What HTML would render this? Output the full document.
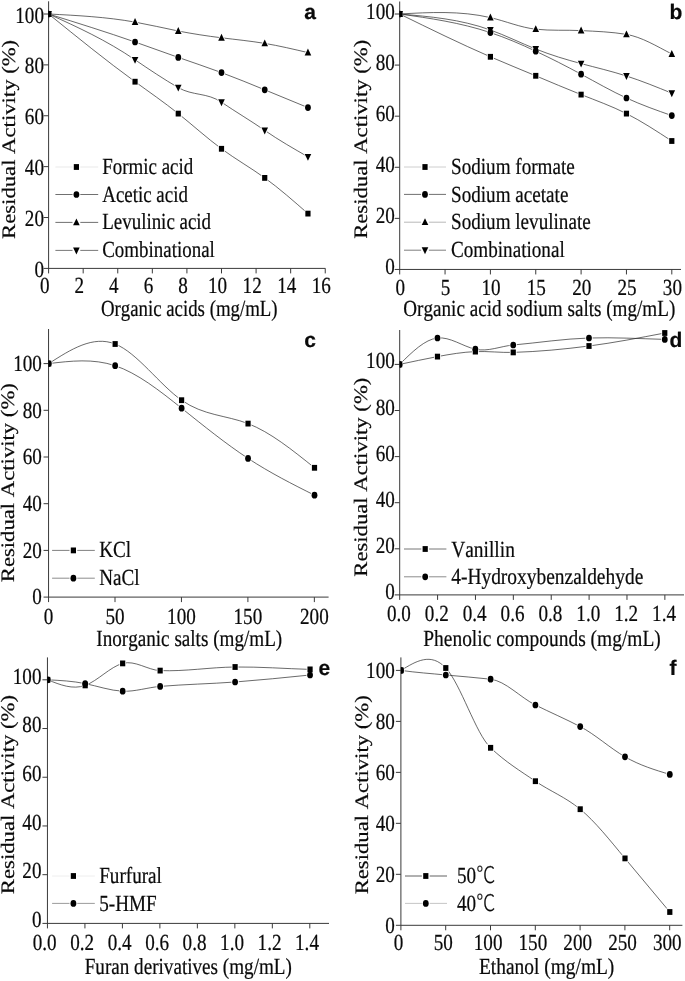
<!DOCTYPE html>
<html><head><meta charset="utf-8"><title>Residual activity</title>
<style>
html,body{margin:0;padding:0;background:#fff;}
svg{display:block;}
text{font-family:"Liberation Serif","Times New Roman",serif;fill:#0a0a0a;stroke:#0a0a0a;stroke-width:0.22px;font-kerning:none;text-rendering:geometricPrecision;}
</style></head><body>
<svg width="685" height="981" viewBox="0 0 685 981">
<rect width="685" height="981" fill="#fff"/>
<g fill="#000">
<g stroke="#3a3a3a" stroke-width="1" fill="none">
<path d="M48.6,1.3V273.4M43.6,268.4H325.4"/>
<path d="M43.6,217.52H48.6M43.6,166.64H48.6M43.6,115.76H48.6M43.6,64.88H48.6M43.6,14.00H48.6M83.18,268.4V273.4M117.76,268.4V273.4M152.34,268.4V273.4M186.92,268.4V273.4M221.50,268.4V273.4M256.08,268.4V273.4M290.66,268.4V273.4M325.24,268.4V273.4"/>
</g>
<text transform="translate(44.00,277.00) scale(0.83,1)" text-anchor="end" font-size="23.05">0</text>
<text transform="translate(44.00,226.12) scale(0.83,1)" text-anchor="end" font-size="23.05">20</text>
<text transform="translate(44.00,175.24) scale(0.83,1)" text-anchor="end" font-size="23.05">40</text>
<text transform="translate(44.00,124.36) scale(0.83,1)" text-anchor="end" font-size="23.05">60</text>
<text transform="translate(44.00,73.48) scale(0.83,1)" text-anchor="end" font-size="23.05">80</text>
<text transform="translate(44.00,22.60) scale(0.83,1)" text-anchor="end" font-size="23.05">100</text>
<text transform="translate(44.70,292.70) scale(0.83,1)" text-anchor="middle" font-size="23.05">0</text>
<text transform="translate(79.28,292.70) scale(0.83,1)" text-anchor="middle" font-size="23.05">2</text>
<text transform="translate(113.86,292.70) scale(0.83,1)" text-anchor="middle" font-size="23.05">4</text>
<text transform="translate(148.44,292.70) scale(0.83,1)" text-anchor="middle" font-size="23.05">6</text>
<text transform="translate(183.02,292.70) scale(0.83,1)" text-anchor="middle" font-size="23.05">8</text>
<text transform="translate(217.60,292.70) scale(0.83,1)" text-anchor="middle" font-size="23.05">10</text>
<text transform="translate(252.18,292.70) scale(0.83,1)" text-anchor="middle" font-size="23.05">12</text>
<text transform="translate(286.76,292.70) scale(0.83,1)" text-anchor="middle" font-size="23.05">14</text>
<text transform="translate(321.34,292.70) scale(0.83,1)" text-anchor="middle" font-size="23.05">16</text>
<text transform="translate(100.90,316.00) scale(0.817,1)" text-anchor="start" font-size="23.05">Organic acids (mg/mL)</text>
<text transform="translate(14.70,139.40) scale(0.84,1) rotate(-90)" text-anchor="middle" font-size="22.7">Residual Activity (%)</text>
<text transform="translate(310.00,19.40) scale(1,1)" text-anchor="middle" font-size="21" style="font-family:'Liberation Sans',Arial,sans-serif;font-weight:bold;">a</text>
<clipPath id="cpa"><rect x="48.6" y="-4.7" width="651.4" height="273.09999999999997"/></clipPath>
<g clip-path="url(#cpa)">
<mask id="mka0" maskUnits="userSpaceOnUse" x="0" y="0" width="685" height="981"><rect width="685" height="981" fill="#fff"/><g fill="#000" stroke="#000" stroke-width="1.6">
<rect x="46.00" y="11.10" width="5.2" height="5.8"/>
<rect x="132.45" y="78.80" width="5.2" height="5.8"/>
<rect x="175.67" y="110.70" width="5.2" height="5.8"/>
<rect x="218.90" y="145.90" width="5.2" height="5.8"/>
<rect x="262.12" y="175.00" width="5.2" height="5.8"/>
<rect x="305.35" y="210.70" width="5.2" height="5.8"/>
</g></mask>
<path d="M48.60,14.00C77.42,37.35 106.23,60.71 135.05,81.70C149.46,92.20 163.87,102.10 178.27,113.60C192.68,125.10 207.09,138.20 221.50,148.80C235.91,159.40 250.32,167.52 264.73,177.90C279.13,188.28 293.54,200.94 307.95,213.60" fill="none" stroke="#2a2a2a" stroke-width="0.7" mask="url(#mka0)"/>
<rect x="46.00" y="11.10" width="5.2" height="5.8"/>
<rect x="132.45" y="78.80" width="5.2" height="5.8"/>
<rect x="175.67" y="110.70" width="5.2" height="5.8"/>
<rect x="218.90" y="145.90" width="5.2" height="5.8"/>
<rect x="262.12" y="175.00" width="5.2" height="5.8"/>
<rect x="305.35" y="210.70" width="5.2" height="5.8"/>
<mask id="mka1" maskUnits="userSpaceOnUse" x="0" y="0" width="685" height="981"><rect width="685" height="981" fill="#fff"/><g fill="#000" stroke="#000" stroke-width="1.6">
<ellipse cx="48.60" cy="14.00" rx="2.9" ry="3.35"/>
<ellipse cx="135.05" cy="42.00" rx="2.9" ry="3.35"/>
<ellipse cx="178.27" cy="57.40" rx="2.9" ry="3.35"/>
<ellipse cx="221.50" cy="72.60" rx="2.9" ry="3.35"/>
<ellipse cx="264.73" cy="89.80" rx="2.9" ry="3.35"/>
<ellipse cx="307.95" cy="107.60" rx="2.9" ry="3.35"/>
</g></mask>
<path d="M48.60,14.00C77.42,22.96 106.23,31.93 135.05,42.00C149.46,47.04 163.87,52.35 178.27,57.40C192.68,62.45 207.09,67.24 221.50,72.60C235.91,77.96 250.32,83.87 264.73,89.80C279.13,95.73 293.54,101.66 307.95,107.60" fill="none" stroke="#2a2a2a" stroke-width="0.7" mask="url(#mka1)"/>
<ellipse cx="48.60" cy="14.00" rx="2.9" ry="3.35"/>
<ellipse cx="135.05" cy="42.00" rx="2.9" ry="3.35"/>
<ellipse cx="178.27" cy="57.40" rx="2.9" ry="3.35"/>
<ellipse cx="221.50" cy="72.60" rx="2.9" ry="3.35"/>
<ellipse cx="264.73" cy="89.80" rx="2.9" ry="3.35"/>
<ellipse cx="307.95" cy="107.60" rx="2.9" ry="3.35"/>
<mask id="mka2" maskUnits="userSpaceOnUse" x="0" y="0" width="685" height="981"><rect width="685" height="981" fill="#fff"/><g fill="#000" stroke="#000" stroke-width="1.6">
<path d="M45.30,16.90L51.90,16.90L48.60,10.00Z"/>
<path d="M131.75,25.00L138.35,25.00L135.05,18.10Z"/>
<path d="M174.97,33.90L181.57,33.90L178.27,27.00Z"/>
<path d="M218.20,40.70L224.80,40.70L221.50,33.80Z"/>
<path d="M261.43,46.30L268.03,46.30L264.73,39.40Z"/>
<path d="M304.65,55.50L311.25,55.50L307.95,48.60Z"/>
</g></mask>
<path d="M48.60,14.00C77.42,15.48 106.23,16.95 135.05,22.10C149.46,24.67 163.87,28.17 178.27,31.00C192.68,33.83 207.09,36.01 221.50,37.80C235.91,39.59 250.32,41.00 264.73,43.40C279.13,45.80 293.54,49.20 307.95,52.60" fill="none" stroke="#2a2a2a" stroke-width="0.7" mask="url(#mka2)"/>
<path d="M45.30,16.90L51.90,16.90L48.60,10.00Z"/>
<path d="M131.75,25.00L138.35,25.00L135.05,18.10Z"/>
<path d="M174.97,33.90L181.57,33.90L178.27,27.00Z"/>
<path d="M218.20,40.70L224.80,40.70L221.50,33.80Z"/>
<path d="M261.43,46.30L268.03,46.30L264.73,39.40Z"/>
<path d="M304.65,55.50L311.25,55.50L307.95,48.60Z"/>
<mask id="mka3" maskUnits="userSpaceOnUse" x="0" y="0" width="685" height="981"><rect width="685" height="981" fill="#fff"/><g fill="#000" stroke="#000" stroke-width="1.6">
<path d="M45.30,11.10L51.90,11.10L48.60,18.00Z"/>
<path d="M131.75,56.90L138.35,56.90L135.05,63.80Z"/>
<path d="M174.97,84.70L181.57,84.70L178.27,91.60Z"/>
<path d="M218.20,99.30L224.80,99.30L221.50,106.20Z"/>
<path d="M261.43,127.50L268.03,127.50L264.73,134.40Z"/>
<path d="M304.65,153.90L311.25,153.90L307.95,160.80Z"/>
</g></mask>
<path d="M48.60,14.00C77.42,27.07 106.23,40.14 135.05,59.80C149.46,69.63 163.87,79.24 178.27,87.60C192.68,95.96 207.09,92.40 221.50,102.20C235.91,112.00 250.32,120.45 264.73,130.40C279.13,140.35 293.54,148.57 307.95,156.80" fill="none" stroke="#2a2a2a" stroke-width="0.7" mask="url(#mka3)"/>
<path d="M45.30,11.10L51.90,11.10L48.60,18.00Z"/>
<path d="M131.75,56.90L138.35,56.90L135.05,63.80Z"/>
<path d="M174.97,84.70L181.57,84.70L178.27,91.60Z"/>
<path d="M218.20,99.30L224.80,99.30L221.50,106.20Z"/>
<path d="M261.43,127.50L268.03,127.50L264.73,134.40Z"/>
<path d="M304.65,153.90L311.25,153.90L307.95,160.80Z"/>
</g>
<path d="M55.4,167H72.50M80.30,167H98.2" stroke="#e6e6e6" stroke-width="0.9" fill="none"/>
<rect x="73.80" y="164.10" width="5.2" height="5.8"/>
<text transform="translate(102.20,174.00) scale(0.822,1)" text-anchor="start" font-size="23.05">Formic acid</text>
<path d="M55.4,194.5H72.50M80.30,194.5H98.2" stroke="#606060" stroke-width="0.9" fill="none"/>
<ellipse cx="76.40" cy="194.50" rx="2.9" ry="3.35"/>
<text transform="translate(102.20,201.70) scale(0.822,1)" text-anchor="start" font-size="23.05">Acetic acid</text>
<path d="M55.4,222.4H72.50M80.30,222.4H98.2" stroke="#606060" stroke-width="0.9" fill="none"/>
<path d="M73.10,225.30L79.70,225.30L76.40,218.40Z"/>
<text transform="translate(102.20,229.40) scale(0.822,1)" text-anchor="start" font-size="23.05">Levulinic acid</text>
<path d="M55.4,250.4H72.50M80.30,250.4H98.2" stroke="#686868" stroke-width="0.9" fill="none"/>
<path d="M73.10,247.50L79.70,247.50L76.40,254.40Z"/>
<text transform="translate(102.20,257.00) scale(0.822,1)" text-anchor="start" font-size="23.05">Combinational</text>
<g stroke="#3a3a3a" stroke-width="1" fill="none">
<path d="M399.7,1.5V274.45M394.7,269.45H681"/>
<path d="M394.7,218.36H399.7M394.7,167.27H399.7M394.7,116.18H399.7M394.7,65.09H399.7M394.7,14.00H399.7M445.05,269.45V274.45M490.40,269.45V274.45M535.75,269.45V274.45M581.10,269.45V274.45M626.45,269.45V274.45M671.80,269.45V274.45"/>
</g>
<text transform="translate(394.80,274.45) scale(0.83,1)" text-anchor="end" font-size="23.05">0</text>
<text transform="translate(394.80,223.36) scale(0.83,1)" text-anchor="end" font-size="23.05">20</text>
<text transform="translate(394.80,172.27) scale(0.83,1)" text-anchor="end" font-size="23.05">40</text>
<text transform="translate(394.80,121.18) scale(0.83,1)" text-anchor="end" font-size="23.05">60</text>
<text transform="translate(394.80,70.09) scale(0.83,1)" text-anchor="end" font-size="23.05">80</text>
<text transform="translate(394.80,19.00) scale(0.83,1)" text-anchor="end" font-size="23.05">100</text>
<text transform="translate(400.30,295.20) scale(0.83,1)" text-anchor="middle" font-size="23.05">0</text>
<text transform="translate(445.65,295.20) scale(0.83,1)" text-anchor="middle" font-size="23.05">5</text>
<text transform="translate(491.00,295.20) scale(0.83,1)" text-anchor="middle" font-size="23.05">10</text>
<text transform="translate(536.35,295.20) scale(0.83,1)" text-anchor="middle" font-size="23.05">15</text>
<text transform="translate(581.70,295.20) scale(0.83,1)" text-anchor="middle" font-size="23.05">20</text>
<text transform="translate(627.05,295.20) scale(0.83,1)" text-anchor="middle" font-size="23.05">25</text>
<text transform="translate(672.40,295.20) scale(0.83,1)" text-anchor="middle" font-size="23.05">30</text>
<text transform="translate(403.30,316.00) scale(0.83,1)" text-anchor="start" font-size="23.05">Organic acid sodium salts (mg/mL)</text>
<text transform="translate(367.20,139.30) scale(0.84,1) rotate(-90)" text-anchor="middle" font-size="22.7">Residual Activity (%)</text>
<text transform="translate(676.00,19.40) scale(1,1)" text-anchor="middle" font-size="21" style="font-family:'Liberation Sans',Arial,sans-serif;font-weight:bold;">b</text>
<clipPath id="cpb"><rect x="399.7" y="-4.5" width="300.3" height="273.95"/></clipPath>
<g clip-path="url(#cpb)">
<mask id="mkb0" maskUnits="userSpaceOnUse" x="0" y="0" width="685" height="981"><rect width="685" height="981" fill="#fff"/><g fill="#000" stroke="#000" stroke-width="1.6">
<rect x="397.10" y="11.10" width="5.2" height="5.8"/>
<rect x="487.80" y="53.90" width="5.2" height="5.8"/>
<rect x="533.15" y="72.90" width="5.2" height="5.8"/>
<rect x="578.50" y="91.70" width="5.2" height="5.8"/>
<rect x="623.85" y="110.70" width="5.2" height="5.8"/>
<rect x="669.20" y="138.10" width="5.2" height="5.8"/>
</g></mask>
<path d="M399.70,14.00C429.93,28.84 460.17,43.69 490.40,56.80C505.52,63.36 520.63,69.48 535.75,75.80C550.87,82.12 565.98,88.64 581.10,94.60C596.22,100.56 611.33,105.96 626.45,113.60C641.57,121.24 656.68,131.12 671.80,141.00" fill="none" stroke="#2a2a2a" stroke-width="0.7" mask="url(#mkb0)"/>
<rect x="397.10" y="11.10" width="5.2" height="5.8"/>
<rect x="487.80" y="53.90" width="5.2" height="5.8"/>
<rect x="533.15" y="72.90" width="5.2" height="5.8"/>
<rect x="578.50" y="91.70" width="5.2" height="5.8"/>
<rect x="623.85" y="110.70" width="5.2" height="5.8"/>
<rect x="669.20" y="138.10" width="5.2" height="5.8"/>
<mask id="mkb1" maskUnits="userSpaceOnUse" x="0" y="0" width="685" height="981"><rect width="685" height="981" fill="#fff"/><g fill="#000" stroke="#000" stroke-width="1.6">
<ellipse cx="399.70" cy="14.00" rx="2.9" ry="3.35"/>
<ellipse cx="490.40" cy="32.60" rx="2.9" ry="3.35"/>
<ellipse cx="535.75" cy="51.20" rx="2.9" ry="3.35"/>
<ellipse cx="581.10" cy="74.20" rx="2.9" ry="3.35"/>
<ellipse cx="626.45" cy="98.00" rx="2.9" ry="3.35"/>
<ellipse cx="671.80" cy="115.60" rx="2.9" ry="3.35"/>
</g></mask>
<path d="M399.70,14.00C429.93,18.27 460.17,22.54 490.40,32.60C505.52,37.63 520.63,44.10 535.75,51.20C550.87,58.30 565.98,66.02 581.10,74.20C596.22,82.38 611.33,91.02 626.45,98.00C641.57,104.98 656.68,110.29 671.80,115.60" fill="none" stroke="#2a2a2a" stroke-width="0.7" mask="url(#mkb1)"/>
<ellipse cx="399.70" cy="14.00" rx="2.9" ry="3.35"/>
<ellipse cx="490.40" cy="32.60" rx="2.9" ry="3.35"/>
<ellipse cx="535.75" cy="51.20" rx="2.9" ry="3.35"/>
<ellipse cx="581.10" cy="74.20" rx="2.9" ry="3.35"/>
<ellipse cx="626.45" cy="98.00" rx="2.9" ry="3.35"/>
<ellipse cx="671.80" cy="115.60" rx="2.9" ry="3.35"/>
<mask id="mkb2" maskUnits="userSpaceOnUse" x="0" y="0" width="685" height="981"><rect width="685" height="981" fill="#fff"/><g fill="#000" stroke="#000" stroke-width="1.6">
<path d="M396.40,16.90L403.00,16.90L399.70,10.00Z"/>
<path d="M487.10,20.50L493.70,20.50L490.40,13.60Z"/>
<path d="M532.45,32.10L539.05,32.10L535.75,25.20Z"/>
<path d="M577.80,33.50L584.40,33.50L581.10,26.60Z"/>
<path d="M623.15,37.30L629.75,37.30L626.45,30.40Z"/>
<path d="M668.50,56.90L675.10,56.90L671.80,50.00Z"/>
</g></mask>
<path d="M399.70,14.00C429.93,12.31 460.17,10.62 490.40,17.60C505.52,21.09 520.63,27.54 535.75,29.20C550.87,30.86 565.98,29.84 581.10,30.60C596.22,31.36 611.33,31.83 626.45,34.40C641.57,36.97 656.68,46.19 671.80,54.00" fill="none" stroke="#2a2a2a" stroke-width="0.7" mask="url(#mkb2)"/>
<path d="M396.40,16.90L403.00,16.90L399.70,10.00Z"/>
<path d="M487.10,20.50L493.70,20.50L490.40,13.60Z"/>
<path d="M532.45,32.10L539.05,32.10L535.75,25.20Z"/>
<path d="M577.80,33.50L584.40,33.50L581.10,26.60Z"/>
<path d="M623.15,37.30L629.75,37.30L626.45,30.40Z"/>
<path d="M668.50,56.90L675.10,56.90L671.80,50.00Z"/>
<mask id="mkb3" maskUnits="userSpaceOnUse" x="0" y="0" width="685" height="981"><rect width="685" height="981" fill="#fff"/><g fill="#000" stroke="#000" stroke-width="1.6">
<path d="M396.40,11.10L403.00,11.10L399.70,18.00Z"/>
<path d="M487.10,27.10L493.70,27.10L490.40,34.00Z"/>
<path d="M532.45,46.10L539.05,46.10L535.75,53.00Z"/>
<path d="M577.80,60.70L584.40,60.70L581.10,67.60Z"/>
<path d="M623.15,73.10L629.75,73.10L626.45,80.00Z"/>
<path d="M668.50,90.30L675.10,90.30L671.80,97.20Z"/>
</g></mask>
<path d="M399.70,14.00C429.93,16.56 460.17,19.11 490.40,30.00C505.52,35.44 520.63,42.97 535.75,49.00C550.87,55.03 565.98,59.57 581.10,63.60C596.22,67.63 611.33,71.15 626.45,76.00C641.57,80.85 656.68,87.02 671.80,93.20" fill="none" stroke="#2a2a2a" stroke-width="0.7" mask="url(#mkb3)"/>
<path d="M396.40,11.10L403.00,11.10L399.70,18.00Z"/>
<path d="M487.10,27.10L493.70,27.10L490.40,34.00Z"/>
<path d="M532.45,46.10L539.05,46.10L535.75,53.00Z"/>
<path d="M577.80,60.70L584.40,60.70L581.10,67.60Z"/>
<path d="M623.15,73.10L629.75,73.10L626.45,80.00Z"/>
<path d="M668.50,90.30L675.10,90.30L671.80,97.20Z"/>
</g>
<path d="M404,167H421.10M428.90,167H446" stroke="#c8c8c8" stroke-width="0.9" fill="none"/>
<rect x="422.40" y="164.10" width="5.2" height="5.8"/>
<text transform="translate(451.00,174.00) scale(0.83,1)" text-anchor="start" font-size="23.05">Sodium formate</text>
<path d="M404,194.4H421.10M428.90,194.4H446" stroke="#606060" stroke-width="0.9" fill="none"/>
<ellipse cx="425.00" cy="194.40" rx="2.9" ry="3.35"/>
<text transform="translate(451.00,201.80) scale(0.83,1)" text-anchor="start" font-size="23.05">Sodium acetate</text>
<path d="M404,222.2H421.10M428.90,222.2H446" stroke="#b0b0b0" stroke-width="0.9" fill="none"/>
<path d="M421.70,225.10L428.30,225.10L425.00,218.20Z"/>
<text transform="translate(451.00,229.40) scale(0.83,1)" text-anchor="start" font-size="23.05">Sodium levulinate</text>
<path d="M404,250.2H421.10M428.90,250.2H446" stroke="#707070" stroke-width="0.9" fill="none"/>
<path d="M421.70,247.30L428.30,247.30L425.00,254.20Z"/>
<text transform="translate(451.00,257.00) scale(0.83,1)" text-anchor="start" font-size="23.05">Combinational</text>
<g stroke="#3a3a3a" stroke-width="1" fill="none">
<path d="M48.55,329V602.1M43.55,597.1H328.6"/>
<path d="M43.55,550.40H48.55M43.55,503.70H48.55M43.55,457.00H48.55M43.55,410.30H48.55M43.55,363.60H48.55M115.00,597.1V602.1M181.45,597.1V602.1M247.90,597.1V602.1M314.35,597.1V602.1"/>
</g>
<text transform="translate(41.90,604.40) scale(0.83,1)" text-anchor="end" font-size="23.05">0</text>
<text transform="translate(41.90,557.70) scale(0.83,1)" text-anchor="end" font-size="23.05">20</text>
<text transform="translate(41.90,511.00) scale(0.83,1)" text-anchor="end" font-size="23.05">40</text>
<text transform="translate(41.90,464.30) scale(0.83,1)" text-anchor="end" font-size="23.05">60</text>
<text transform="translate(41.90,417.60) scale(0.83,1)" text-anchor="end" font-size="23.05">80</text>
<text transform="translate(41.90,370.90) scale(0.83,1)" text-anchor="end" font-size="23.05">100</text>
<text transform="translate(48.55,623.50) scale(0.83,1)" text-anchor="middle" font-size="23.05">0</text>
<text transform="translate(115.00,623.50) scale(0.83,1)" text-anchor="middle" font-size="23.05">50</text>
<text transform="translate(181.45,623.50) scale(0.83,1)" text-anchor="middle" font-size="23.05">100</text>
<text transform="translate(247.90,623.50) scale(0.83,1)" text-anchor="middle" font-size="23.05">150</text>
<text transform="translate(314.35,623.50) scale(0.83,1)" text-anchor="middle" font-size="23.05">200</text>
<text transform="translate(96.30,646.00) scale(0.83,1)" text-anchor="start" font-size="23.05">Inorganic salts (mg/mL)</text>
<text transform="translate(14.40,482.70) scale(0.84,1) rotate(-90)" text-anchor="middle" font-size="22.7">Residual Activity (%)</text>
<text transform="translate(310.00,347.40) scale(1,1)" text-anchor="middle" font-size="21" style="font-family:'Liberation Sans',Arial,sans-serif;font-weight:bold;">c</text>
<clipPath id="cpc"><rect x="48.55" y="323" width="651.45" height="274.1"/></clipPath>
<g clip-path="url(#cpc)">
<mask id="mkc0" maskUnits="userSpaceOnUse" x="0" y="0" width="685" height="981"><rect width="685" height="981" fill="#fff"/><g fill="#000" stroke="#000" stroke-width="1.6">
<rect x="46.10" y="360.70" width="5.2" height="5.8"/>
<rect x="112.55" y="341.10" width="5.2" height="5.8"/>
<rect x="179.00" y="397.30" width="5.2" height="5.8"/>
<rect x="245.45" y="420.70" width="5.2" height="5.8"/>
<rect x="311.90" y="464.90" width="5.2" height="5.8"/>
</g></mask>
<path d="M48.70,363.60C70.85,349.39 93.00,335.19 115.15,344.00C137.30,352.81 159.45,384.64 181.60,400.20C203.75,415.76 225.90,415.05 248.05,423.60C270.20,432.15 292.35,449.98 314.50,467.80" fill="none" stroke="#2a2a2a" stroke-width="0.7" mask="url(#mkc0)"/>
<rect x="46.10" y="360.70" width="5.2" height="5.8"/>
<rect x="112.55" y="341.10" width="5.2" height="5.8"/>
<rect x="179.00" y="397.30" width="5.2" height="5.8"/>
<rect x="245.45" y="420.70" width="5.2" height="5.8"/>
<rect x="311.90" y="464.90" width="5.2" height="5.8"/>
<mask id="mkc1" maskUnits="userSpaceOnUse" x="0" y="0" width="685" height="981"><rect width="685" height="981" fill="#fff"/><g fill="#000" stroke="#000" stroke-width="1.6">
<ellipse cx="48.70" cy="363.60" rx="2.9" ry="3.35"/>
<ellipse cx="115.15" cy="365.70" rx="2.9" ry="3.35"/>
<ellipse cx="181.60" cy="408.20" rx="2.9" ry="3.35"/>
<ellipse cx="248.05" cy="458.40" rx="2.9" ry="3.35"/>
<ellipse cx="314.50" cy="495.20" rx="2.9" ry="3.35"/>
</g></mask>
<path d="M48.70,363.60C70.85,360.96 93.00,358.31 115.15,365.70C137.30,373.09 159.45,390.51 181.60,408.20C203.75,425.89 225.90,443.85 248.05,458.40C270.20,472.95 292.35,484.07 314.50,495.20" fill="none" stroke="#2a2a2a" stroke-width="0.7" mask="url(#mkc1)"/>
<ellipse cx="48.70" cy="363.60" rx="2.9" ry="3.35"/>
<ellipse cx="115.15" cy="365.70" rx="2.9" ry="3.35"/>
<ellipse cx="181.60" cy="408.20" rx="2.9" ry="3.35"/>
<ellipse cx="248.05" cy="458.40" rx="2.9" ry="3.35"/>
<ellipse cx="314.50" cy="495.20" rx="2.9" ry="3.35"/>
</g>
<path d="M52.1,550.4H69.50M77.30,550.4H94.8" stroke="#707070" stroke-width="0.9" fill="none"/>
<rect x="70.80" y="547.50" width="5.2" height="5.8"/>
<text transform="translate(99.20,557.40) scale(0.83,1)" text-anchor="start" font-size="23.05">KCl</text>
<path d="M52.1,578.2H69.50M77.30,578.2H94.8" stroke="#808080" stroke-width="0.9" fill="none"/>
<ellipse cx="73.40" cy="578.20" rx="2.9" ry="3.35"/>
<text transform="translate(99.20,585.40) scale(0.83,1)" text-anchor="start" font-size="23.05">NaCl</text>
<g stroke="#3a3a3a" stroke-width="1" fill="none">
<path d="M399.7,330V599.9M394.7,594.9H684"/>
<path d="M394.7,548.80H399.7M394.7,502.70H399.7M394.7,456.60H399.7M394.7,410.50H399.7M394.7,364.40H399.7M437.58,594.9V599.9M475.46,594.9V599.9M513.34,594.9V599.9M551.22,594.9V599.9M589.10,594.9V599.9M626.98,594.9V599.9M664.86,594.9V599.9"/>
</g>
<text transform="translate(394.80,598.90) scale(0.83,1)" text-anchor="end" font-size="23.05">0</text>
<text transform="translate(394.80,552.80) scale(0.83,1)" text-anchor="end" font-size="23.05">20</text>
<text transform="translate(394.80,506.70) scale(0.83,1)" text-anchor="end" font-size="23.05">40</text>
<text transform="translate(394.80,460.60) scale(0.83,1)" text-anchor="end" font-size="23.05">60</text>
<text transform="translate(394.80,414.50) scale(0.83,1)" text-anchor="end" font-size="23.05">80</text>
<text transform="translate(394.80,368.40) scale(0.83,1)" text-anchor="end" font-size="23.05">100</text>
<text transform="translate(398.90,621.30) scale(0.83,1)" text-anchor="middle" font-size="23.05">0.0</text>
<text transform="translate(436.78,621.30) scale(0.83,1)" text-anchor="middle" font-size="23.05">0.2</text>
<text transform="translate(474.66,621.30) scale(0.83,1)" text-anchor="middle" font-size="23.05">0.4</text>
<text transform="translate(512.54,621.30) scale(0.83,1)" text-anchor="middle" font-size="23.05">0.6</text>
<text transform="translate(550.42,621.30) scale(0.83,1)" text-anchor="middle" font-size="23.05">0.8</text>
<text transform="translate(588.30,621.30) scale(0.83,1)" text-anchor="middle" font-size="23.05">1.0</text>
<text transform="translate(626.18,621.30) scale(0.83,1)" text-anchor="middle" font-size="23.05">1.2</text>
<text transform="translate(664.06,621.30) scale(0.83,1)" text-anchor="middle" font-size="23.05">1.4</text>
<text transform="translate(423.30,646.00) scale(0.843,1)" text-anchor="start" font-size="23.05">Phenolic compounds (mg/mL)</text>
<text transform="translate(367.20,477.20) scale(0.84,1) rotate(-90)" text-anchor="middle" font-size="22.7">Residual Activity (%)</text>
<text transform="translate(675.80,347.40) scale(1,1)" text-anchor="middle" font-size="21" style="font-family:'Liberation Sans',Arial,sans-serif;font-weight:bold;">d</text>
<clipPath id="cpd"><rect x="399.7" y="324" width="300.3" height="270.9"/></clipPath>
<g clip-path="url(#cpd)">
<mask id="mkd0" maskUnits="userSpaceOnUse" x="0" y="0" width="685" height="981"><rect width="685" height="981" fill="#fff"/><g fill="#000" stroke="#000" stroke-width="1.6">
<rect x="397.00" y="361.50" width="5.2" height="5.8"/>
<rect x="434.88" y="353.70" width="5.2" height="5.8"/>
<rect x="472.76" y="348.70" width="5.2" height="5.8"/>
<rect x="510.64" y="349.50" width="5.2" height="5.8"/>
<rect x="586.40" y="343.10" width="5.2" height="5.8"/>
<rect x="662.16" y="330.10" width="5.2" height="5.8"/>
</g></mask>
<path d="M399.60,364.40C412.23,361.70 424.85,359.00 437.48,356.60C450.11,354.20 462.73,352.11 475.36,351.60C487.99,351.09 500.61,352.78 513.24,352.40C538.49,351.64 563.75,349.28 589.00,346.00C614.25,342.72 639.51,337.80 664.76,333.00" fill="none" stroke="#2a2a2a" stroke-width="0.7" mask="url(#mkd0)"/>
<rect x="397.00" y="361.50" width="5.2" height="5.8"/>
<rect x="434.88" y="353.70" width="5.2" height="5.8"/>
<rect x="472.76" y="348.70" width="5.2" height="5.8"/>
<rect x="510.64" y="349.50" width="5.2" height="5.8"/>
<rect x="586.40" y="343.10" width="5.2" height="5.8"/>
<rect x="662.16" y="330.10" width="5.2" height="5.8"/>
<mask id="mkd1" maskUnits="userSpaceOnUse" x="0" y="0" width="685" height="981"><rect width="685" height="981" fill="#fff"/><g fill="#000" stroke="#000" stroke-width="1.6">
<ellipse cx="399.60" cy="364.40" rx="2.9" ry="3.35"/>
<ellipse cx="437.48" cy="338.00" rx="2.9" ry="3.35"/>
<ellipse cx="475.36" cy="349.20" rx="2.9" ry="3.35"/>
<ellipse cx="513.24" cy="345.00" rx="2.9" ry="3.35"/>
<ellipse cx="589.00" cy="338.00" rx="2.9" ry="3.35"/>
<ellipse cx="664.76" cy="339.40" rx="2.9" ry="3.35"/>
</g></mask>
<path d="M399.60,364.40C412.23,351.89 424.85,339.38 437.48,338.00C450.11,336.62 462.73,346.38 475.36,349.20C487.99,352.02 500.61,346.14 513.24,345.00C538.49,342.73 563.75,338.76 589.00,338.00C614.25,337.24 639.51,338.64 664.76,339.40" fill="none" stroke="#2a2a2a" stroke-width="0.7" mask="url(#mkd1)"/>
<ellipse cx="399.60" cy="364.40" rx="2.9" ry="3.35"/>
<ellipse cx="437.48" cy="338.00" rx="2.9" ry="3.35"/>
<ellipse cx="475.36" cy="349.20" rx="2.9" ry="3.35"/>
<ellipse cx="513.24" cy="345.00" rx="2.9" ry="3.35"/>
<ellipse cx="589.00" cy="338.00" rx="2.9" ry="3.35"/>
<ellipse cx="664.76" cy="339.40" rx="2.9" ry="3.35"/>
</g>
<path d="M404,549.0H421.30M429.10,549.0H446.4" stroke="#686868" stroke-width="0.9" fill="none"/>
<rect x="422.60" y="546.10" width="5.2" height="5.8"/>
<text transform="translate(451.20,556.60) scale(0.843,1)" text-anchor="start" font-size="23.05">Vanillin</text>
<path d="M404,576.8H421.30M429.10,576.8H446.4" stroke="#808080" stroke-width="0.9" fill="none"/>
<ellipse cx="425.20" cy="576.80" rx="2.9" ry="3.35"/>
<text transform="translate(451.20,583.60) scale(0.843,1)" text-anchor="start" font-size="23.05">4-Hydroxybenzaldehyde</text>
<g stroke="#3a3a3a" stroke-width="1" fill="none">
<path d="M47.45,657.4V928.4M42.45,923.4H329"/>
<path d="M42.45,874.68H47.45M42.45,825.96H47.45M42.45,777.24H47.45M42.45,728.52H47.45M42.45,679.80H47.45M84.93,923.4V928.4M122.41,923.4V928.4M159.89,923.4V928.4M197.37,923.4V928.4M234.85,923.4V928.4M272.33,923.4V928.4M309.81,923.4V928.4"/>
</g>
<text transform="translate(41.45,927.20) scale(0.83,1)" text-anchor="end" font-size="23.05">0</text>
<text transform="translate(41.45,878.48) scale(0.83,1)" text-anchor="end" font-size="23.05">20</text>
<text transform="translate(41.45,829.76) scale(0.83,1)" text-anchor="end" font-size="23.05">40</text>
<text transform="translate(41.45,781.04) scale(0.83,1)" text-anchor="end" font-size="23.05">60</text>
<text transform="translate(41.45,732.32) scale(0.83,1)" text-anchor="end" font-size="23.05">80</text>
<text transform="translate(41.45,683.60) scale(0.83,1)" text-anchor="end" font-size="23.05">100</text>
<text transform="translate(44.65,949.50) scale(0.83,1)" text-anchor="middle" font-size="23.05">0.0</text>
<text transform="translate(82.13,949.50) scale(0.83,1)" text-anchor="middle" font-size="23.05">0.2</text>
<text transform="translate(119.61,949.50) scale(0.83,1)" text-anchor="middle" font-size="23.05">0.4</text>
<text transform="translate(157.09,949.50) scale(0.83,1)" text-anchor="middle" font-size="23.05">0.6</text>
<text transform="translate(194.57,949.50) scale(0.83,1)" text-anchor="middle" font-size="23.05">0.8</text>
<text transform="translate(232.05,949.50) scale(0.83,1)" text-anchor="middle" font-size="23.05">1.0</text>
<text transform="translate(269.53,949.50) scale(0.83,1)" text-anchor="middle" font-size="23.05">1.2</text>
<text transform="translate(307.01,949.50) scale(0.83,1)" text-anchor="middle" font-size="23.05">1.4</text>
<text transform="translate(84.70,974.00) scale(0.83,1)" text-anchor="start" font-size="23.05">Furan derivatives (mg/mL)</text>
<text transform="translate(14.40,794.60) scale(0.84,1) rotate(-90)" text-anchor="middle" font-size="22.7">Residual Activity (%)</text>
<text transform="translate(324.40,675.40) scale(1,1)" text-anchor="middle" font-size="21" style="font-family:'Liberation Sans',Arial,sans-serif;font-weight:bold;">e</text>
<clipPath id="cpe"><rect x="47.45" y="651.4" width="652.55" height="272.0"/></clipPath>
<g clip-path="url(#cpe)">
<mask id="mke0" maskUnits="userSpaceOnUse" x="0" y="0" width="685" height="981"><rect width="685" height="981" fill="#fff"/><g fill="#000" stroke="#000" stroke-width="1.6">
<rect x="45.10" y="676.90" width="5.2" height="5.8"/>
<rect x="82.58" y="682.50" width="5.2" height="5.8"/>
<rect x="120.06" y="660.50" width="5.2" height="5.8"/>
<rect x="157.54" y="667.70" width="5.2" height="5.8"/>
<rect x="232.50" y="664.10" width="5.2" height="5.8"/>
<rect x="307.46" y="666.50" width="5.2" height="5.8"/>
</g></mask>
<path d="M47.70,679.80C60.19,684.85 72.69,689.90 85.18,685.40C97.67,680.90 110.17,666.84 122.66,663.40C135.15,659.96 147.65,670.10 160.14,670.60C185.13,671.60 210.11,667.25 235.10,667.00C260.09,666.75 285.07,668.65 310.06,669.40" fill="none" stroke="#2a2a2a" stroke-width="0.7" mask="url(#mke0)"/>
<rect x="45.10" y="676.90" width="5.2" height="5.8"/>
<rect x="82.58" y="682.50" width="5.2" height="5.8"/>
<rect x="120.06" y="660.50" width="5.2" height="5.8"/>
<rect x="157.54" y="667.70" width="5.2" height="5.8"/>
<rect x="232.50" y="664.10" width="5.2" height="5.8"/>
<rect x="307.46" y="666.50" width="5.2" height="5.8"/>
<mask id="mke1" maskUnits="userSpaceOnUse" x="0" y="0" width="685" height="981"><rect width="685" height="981" fill="#fff"/><g fill="#000" stroke="#000" stroke-width="1.6">
<ellipse cx="47.70" cy="679.80" rx="2.9" ry="3.35"/>
<ellipse cx="85.18" cy="683.60" rx="2.9" ry="3.35"/>
<ellipse cx="122.66" cy="691.20" rx="2.9" ry="3.35"/>
<ellipse cx="160.14" cy="686.40" rx="2.9" ry="3.35"/>
<ellipse cx="235.10" cy="682.00" rx="2.9" ry="3.35"/>
<ellipse cx="310.06" cy="675.00" rx="2.9" ry="3.35"/>
</g></mask>
<path d="M47.70,679.80C60.19,680.43 72.69,681.05 85.18,683.60C97.67,686.15 110.17,690.62 122.66,691.20C135.15,691.78 147.65,687.46 160.14,686.40C185.13,684.28 210.11,683.87 235.10,682.00C260.09,680.13 285.07,677.50 310.06,675.00" fill="none" stroke="#2a2a2a" stroke-width="0.7" mask="url(#mke1)"/>
<ellipse cx="47.70" cy="679.80" rx="2.9" ry="3.35"/>
<ellipse cx="85.18" cy="683.60" rx="2.9" ry="3.35"/>
<ellipse cx="122.66" cy="691.20" rx="2.9" ry="3.35"/>
<ellipse cx="160.14" cy="686.40" rx="2.9" ry="3.35"/>
<ellipse cx="235.10" cy="682.00" rx="2.9" ry="3.35"/>
<ellipse cx="310.06" cy="675.00" rx="2.9" ry="3.35"/>
</g>
<path d="M52.1,876H69.50M77.30,876H94.8" stroke="#ececec" stroke-width="0.9" fill="none"/>
<rect x="70.80" y="873.10" width="5.2" height="5.8"/>
<text transform="translate(99.20,883.00) scale(0.83,1)" text-anchor="start" font-size="23.05">Furfural</text>
<path d="M52.1,903.4H69.50M77.30,903.4H94.8" stroke="#909090" stroke-width="0.9" fill="none"/>
<ellipse cx="73.40" cy="903.40" rx="2.9" ry="3.35"/>
<text transform="translate(99.20,910.60) scale(0.83,1)" text-anchor="start" font-size="23.05">5-HMF</text>
<g stroke="#3a3a3a" stroke-width="1" fill="none">
<path d="M400.9,657.4V930.3M395.9,925.3H682.4"/>
<path d="M395.9,874.32H400.9M395.9,823.34H400.9M395.9,772.36H400.9M395.9,721.38H400.9M395.9,670.40H400.9M445.70,925.3V930.3M490.50,925.3V930.3M535.30,925.3V930.3M580.10,925.3V930.3M624.90,925.3V930.3M669.70,925.3V930.3"/>
</g>
<text transform="translate(394.80,932.80) scale(0.83,1)" text-anchor="end" font-size="23.05">0</text>
<text transform="translate(394.80,881.82) scale(0.83,1)" text-anchor="end" font-size="23.05">20</text>
<text transform="translate(394.80,830.84) scale(0.83,1)" text-anchor="end" font-size="23.05">40</text>
<text transform="translate(394.80,779.86) scale(0.83,1)" text-anchor="end" font-size="23.05">60</text>
<text transform="translate(394.80,728.88) scale(0.83,1)" text-anchor="end" font-size="23.05">80</text>
<text transform="translate(394.80,677.90) scale(0.83,1)" text-anchor="end" font-size="23.05">100</text>
<text transform="translate(398.50,949.60) scale(0.83,1)" text-anchor="middle" font-size="23.05">0</text>
<text transform="translate(443.30,949.60) scale(0.83,1)" text-anchor="middle" font-size="23.05">50</text>
<text transform="translate(488.10,949.60) scale(0.83,1)" text-anchor="middle" font-size="23.05">100</text>
<text transform="translate(532.90,949.60) scale(0.83,1)" text-anchor="middle" font-size="23.05">150</text>
<text transform="translate(577.70,949.60) scale(0.83,1)" text-anchor="middle" font-size="23.05">200</text>
<text transform="translate(622.50,949.60) scale(0.83,1)" text-anchor="middle" font-size="23.05">250</text>
<text transform="translate(667.30,949.60) scale(0.83,1)" text-anchor="middle" font-size="23.05">300</text>
<text transform="translate(478.90,974.00) scale(0.843,1)" text-anchor="start" font-size="23.05">Ethanol (mg/mL)</text>
<text transform="translate(367.80,794.80) scale(0.84,1) rotate(-90)" text-anchor="middle" font-size="22.7">Residual Activity (%)</text>
<text transform="translate(673.00,675.40) scale(1,1)" text-anchor="middle" font-size="21" style="font-family:'Liberation Sans',Arial,sans-serif;font-weight:bold;">f</text>
<clipPath id="cpf"><rect x="400.9" y="651.4" width="299.1" height="273.9"/></clipPath>
<g clip-path="url(#cpf)">
<mask id="mkf0" maskUnits="userSpaceOnUse" x="0" y="0" width="685" height="981"><rect width="685" height="981" fill="#fff"/><g fill="#000" stroke="#000" stroke-width="1.6">
<rect x="398.40" y="667.50" width="5.2" height="5.8"/>
<rect x="443.20" y="665.10" width="5.2" height="5.8"/>
<rect x="488.00" y="744.90" width="5.2" height="5.8"/>
<rect x="532.80" y="778.30" width="5.2" height="5.8"/>
<rect x="577.60" y="806.30" width="5.2" height="5.8"/>
<rect x="622.40" y="855.50" width="5.2" height="5.8"/>
<rect x="667.20" y="909.10" width="5.2" height="5.8"/>
</g></mask>
<path d="M401.00,670.40C415.93,661.22 430.87,652.03 445.80,668.00C460.73,683.97 475.67,733.61 490.60,747.80C505.53,761.99 520.47,771.05 535.40,781.20C550.33,791.35 565.27,796.95 580.20,809.20C595.13,821.45 610.07,840.46 625.00,858.40C639.93,876.34 654.87,894.17 669.80,912.00" fill="none" stroke="#2a2a2a" stroke-width="0.7" mask="url(#mkf0)"/>
<rect x="398.40" y="667.50" width="5.2" height="5.8"/>
<rect x="443.20" y="665.10" width="5.2" height="5.8"/>
<rect x="488.00" y="744.90" width="5.2" height="5.8"/>
<rect x="532.80" y="778.30" width="5.2" height="5.8"/>
<rect x="577.60" y="806.30" width="5.2" height="5.8"/>
<rect x="622.40" y="855.50" width="5.2" height="5.8"/>
<rect x="667.20" y="909.10" width="5.2" height="5.8"/>
<mask id="mkf1" maskUnits="userSpaceOnUse" x="0" y="0" width="685" height="981"><rect width="685" height="981" fill="#fff"/><g fill="#000" stroke="#000" stroke-width="1.6">
<ellipse cx="401.00" cy="670.40" rx="2.9" ry="3.35"/>
<ellipse cx="445.80" cy="675.00" rx="2.9" ry="3.35"/>
<ellipse cx="490.60" cy="679.20" rx="2.9" ry="3.35"/>
<ellipse cx="535.40" cy="705.00" rx="2.9" ry="3.35"/>
<ellipse cx="580.20" cy="726.60" rx="2.9" ry="3.35"/>
<ellipse cx="625.00" cy="756.80" rx="2.9" ry="3.35"/>
<ellipse cx="669.80" cy="774.40" rx="2.9" ry="3.35"/>
</g></mask>
<path d="M401.00,670.40C415.93,672.53 430.87,673.51 445.80,675.00C460.73,676.49 475.67,677.41 490.60,679.20C505.53,680.99 520.47,697.53 535.40,705.00C550.33,712.47 565.27,718.83 580.20,726.60C595.13,734.37 610.07,748.14 625.00,756.80C639.93,765.46 654.87,769.93 669.80,774.40" fill="none" stroke="#2a2a2a" stroke-width="0.7" mask="url(#mkf1)"/>
<ellipse cx="401.00" cy="670.40" rx="2.9" ry="3.35"/>
<ellipse cx="445.80" cy="675.00" rx="2.9" ry="3.35"/>
<ellipse cx="490.60" cy="679.20" rx="2.9" ry="3.35"/>
<ellipse cx="535.40" cy="705.00" rx="2.9" ry="3.35"/>
<ellipse cx="580.20" cy="726.60" rx="2.9" ry="3.35"/>
<ellipse cx="625.00" cy="756.80" rx="2.9" ry="3.35"/>
<ellipse cx="669.80" cy="774.40" rx="2.9" ry="3.35"/>
</g>
<path d="M405,876H421.90M429.70,876H447" stroke="#505050" stroke-width="0.9" fill="none"/>
<rect x="423.20" y="873.10" width="5.2" height="5.8"/>
<text transform="translate(457.00,883.00) scale(0.83,1)" text-anchor="start" font-size="23.05" style="font-family:'Liberation Serif','Noto Sans CJK SC',serif;font-weight:300;">50℃</text>
<path d="M405,903.4H421.90M429.70,903.4H447" stroke="#c0c0c0" stroke-width="0.9" fill="none"/>
<ellipse cx="425.80" cy="903.40" rx="2.9" ry="3.35"/>
<text transform="translate(457.00,910.60) scale(0.83,1)" text-anchor="start" font-size="23.05" style="font-family:'Liberation Serif','Noto Sans CJK SC',serif;font-weight:300;">40℃</text>
</g>
</svg>
</body></html>
